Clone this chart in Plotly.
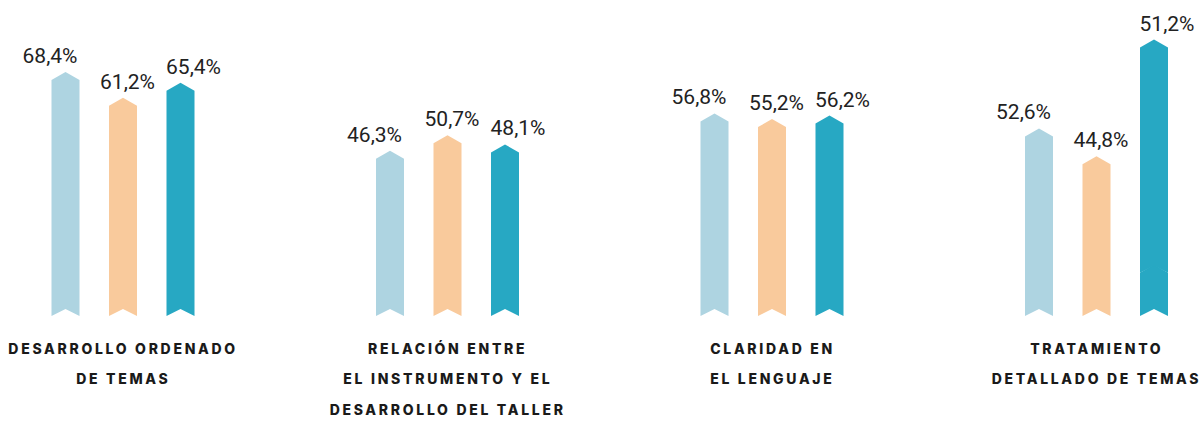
import plotly.graph_objects as go

# ---------------- data ----------------
categories = [
    ["DESARROLLO ORDENADO", "DE TEMAS"],
    ["RELACIÓN ENTRE", "EL INSTRUMENTO Y EL", "DESARROLLO DEL TALLER"],
    ["CLARIDAD EN", "EL LENGUAJE"],
    ["TRATAMIENTO", "DETALLADO DE TEMAS"],
]
series_a = [68.4, 46.3, 56.8, 52.6]   # light blue
series_b = [61.2, 50.7, 55.2, 44.8]   # peach
series_c = [65.4, 48.1, 56.2, 51.2]   # teal
value_labels = [
    ["68,4%", "61,2%", "65,4%"],
    ["46,3%", "50,7%", "48,1%"],
    ["56,8%", "55,2%", "56,2%"],
    ["52,6%", "44,8%", "51,2%"],
]
# the last teal ribbon in the picture is drawn as two stacked pieces
glitch_group = 3
glitch_base = 12.1
glitch_height = 65.4

colors = ["#aed4e1", "#f9ca9c", "#27a8c3"]

# ---------------- geometry (axis units) ----------------
PX_X = 324.5          # px per group unit
PX_Y = 3.567          # px per percent
bar_off = 57.5 / PX_X
lab_off = [-73 / PX_X, 4.5 / PX_X, 70.5 / PX_X]
w = 28 / PX_X
tip = 8 / PX_Y
notch = 7 / PX_Y

fig = go.Figure()


def ribbon(xc, base, top, color):
    xs = [xc - w / 2, xc - w / 2, xc, xc + w / 2, xc + w / 2, xc, xc - w / 2]
    ys = [base, top - tip, top, top - tip, base, base + notch, base]
    fig.add_trace(go.Scatter(x=xs, y=ys, fill="toself", fillcolor=color,
                             mode="lines", line=dict(width=0, color=color),
                             hoverinfo="skip", showlegend=False))


lab_x, lab_y, lab_t = [], [], []
for g in range(len(categories)):
    vals = [series_a[g], series_b[g], series_c[g]]
    for k in range(3):
        xc = g + (k - 1) * bar_off
        if g == glitch_group and k == 2:
            ribbon(xc, 0, glitch_base + notch + 0.3, colors[k])
            ribbon(xc, glitch_base, glitch_base + glitch_height, colors[k])
            top = glitch_base + glitch_height
        else:
            ribbon(xc, 0, vals[k], colors[k])
            top = vals[k]
        lab_x.append(g + lab_off[k])
        lab_y.append(top + 4.0)
        lab_t.append(value_labels[g][k])

fig.add_trace(go.Scatter(x=lab_x, y=lab_y, text=lab_t, mode="text",
                         textposition="middle center",
                         textfont=dict(family="Roboto", size=21, color="#222222",
                                       weight=400),
                         hoverinfo="skip", showlegend=False))

for g, lines in enumerate(categories):
    for i, line in enumerate(lines):
        fig.add_annotation(x=g, y=-9.0 - 8.6 * i, xref="x", yref="y",
                           text=line, showarrow=False,
                           xanchor="center", yanchor="middle",
                           font=dict(family="Inter", size=14, color="#1a1a1a",
                                     weight=800))

fig.update_layout(
    width=1204, height=421,
    margin=dict(l=0, r=0, t=0, b=0),
    paper_bgcolor="white", plot_bgcolor="white",
    xaxis=dict(range=[-123 / PX_X, (1204 - 123) / PX_X], visible=False, fixedrange=True),
    yaxis=dict(range=[-(421 - 316) / PX_Y, 316 / PX_Y], visible=False, fixedrange=True),
)

fig.write_html(
    "out.html",
    config={"displayModeBar": False},
    post_script=(
        "document.body.style.margin='0';"
        "document.querySelectorAll('.annotation-text').forEach(function(t){t.style.letterSpacing='2.7px';});"
    ),
)
